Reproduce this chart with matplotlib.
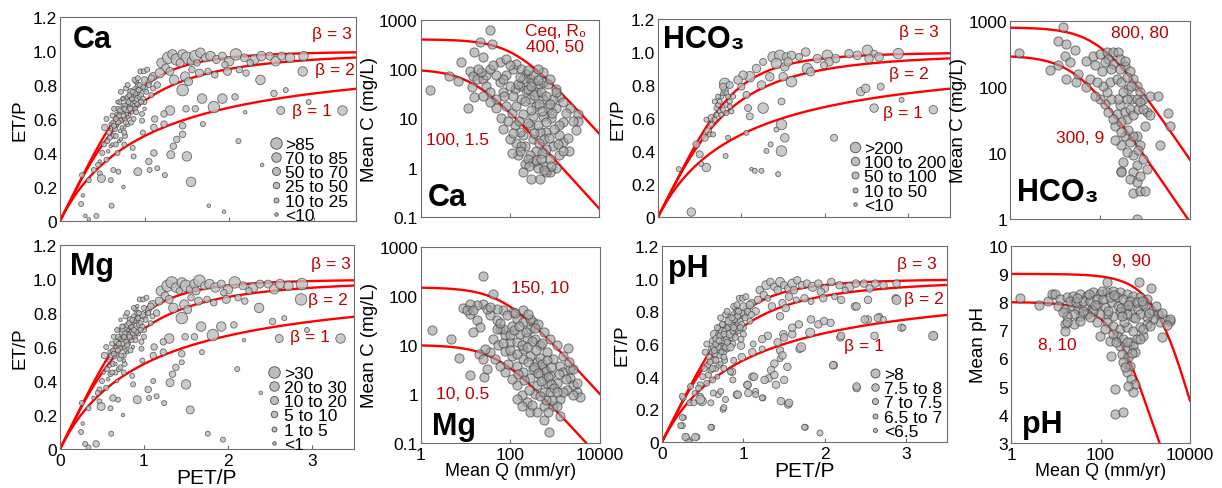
import numpy as np
import matplotlib
matplotlib.use("Agg")
import matplotlib.pyplot as plt
from matplotlib.lines import Line2D

plt.rcParams['font.family'] = ['Liberation Sans', 'DejaVu Sans']

# ---------------- Budyko panels: catchments shared by Ca, Mg and pH ----------------
bud_pet = [
    # upper band
    1.20, 1.28, 1.33, 1.38, 1.45, 1.50, 1.55, 1.60, 1.66, 1.72,
    1.78, 1.85, 1.92, 2.00, 2.08, 2.18, 2.30, 2.38, 2.48, 2.55,
    2.62, 2.72, 2.88, 1.25, 1.42, 1.62, 1.95, 2.25,
    # second band
    1.10, 1.18, 1.30, 1.48, 1.56, 1.65, 1.75, 1.83, 1.98, 2.12,
    2.20, 1.45, 1.52, 2.37, 2.87, 1.35,
    # middle / low scatter
    1.68, 1.82, 1.92, 2.07, 1.49, 1.60, 1.30, 1.23, 1.11, 1.38,
    1.34, 1.31, 1.11, 1.05, 1.15, 1.24, 0.92, 1.06, 0.69, 0.63,
    0.47, 0.49, 0.60, 0.34, 0.26, 0.75, 0.27, 0.25, 0.30, 0.34,
    0.43, 0.61, 0.98, 0.86, 0.87, 0.97, 1.23, 1.12, 1.45, 1.45,
    1.69, 1.50, 1.55, 1.76, 1.94, 2.11, 2.39, 2.19, 2.53, 2.67,
    2.61, 2.94, 3.34, 0.95, 0.99, 1.03, 0.90, 1.00, 1.05, 1.15,
    1.08, 1.00,
    # dense cluster
    0.56, 0.58, 0.60, 0.62, 0.57, 0.63, 0.64, 0.55, 0.60,
    0.66, 0.67, 0.68, 0.69, 0.70, 0.71, 0.72, 0.73, 0.74, 0.66, 0.70, 0.75, 0.68,
    0.76, 0.77, 0.78, 0.79, 0.80, 0.81, 0.82, 0.83, 0.84, 0.77, 0.80, 0.85, 0.78, 0.76,
    0.86, 0.87, 0.88, 0.89, 0.90, 0.91, 0.92, 0.87, 0.93, 0.94, 0.88, 0.95,
    0.96, 0.98, 1.00, 1.02, 1.05, 1.08, 1.10, 1.00, 0.97,
    0.50, 0.52, 0.47, 0.45, 0.40, 0.53, 0.55,
    0.59, 0.61, 0.63, 0.65, 0.67, 0.69, 0.71, 0.73, 0.75, 0.77,
    0.79, 0.81, 0.83, 0.85, 0.87, 0.89, 0.91, 0.93, 0.62, 0.66,
    0.70, 0.74, 0.78, 0.82, 0.86, 0.90, 0.94, 0.98, 0.72, 0.76,
    0.80, 0.84, 0.88, 0.92, 0.96, 0.64, 0.68, 0.72, 0.76, 0.80,
]
bud_et = [
    0.93, 0.96, 0.98, 0.95, 0.98, 0.96, 0.94, 0.97, 0.99, 0.96,
    0.97, 0.95, 0.97, 0.94, 0.98, 0.96, 0.95, 0.97, 0.97, 0.94,
    0.97, 0.96, 0.97, 0.90, 0.93, 0.93, 0.92, 0.93,
    0.85, 0.87, 0.88, 0.85, 0.89, 0.87, 0.88, 0.86, 0.88, 0.89,
    0.87, 0.77, 0.82, 0.83, 0.88, 0.83,
    0.72, 0.67, 0.72, 0.73, 0.66, 0.66, 0.65, 0.57, 0.55, 0.48,
    0.44, 0.39, 0.40, 0.35, 0.31, 0.27, 0.29, 0.30, 0.29, 0.30,
    0.28, 0.25, 0.24, 0.24, 0.27, 0.20, 0.15, 0.10, 0.03, 0.01,
    0.03, 0.09, 0.52, 0.43, 0.38, 0.59, 0.63, 0.60, 0.56, 0.51,
    0.57, 0.38, 0.23, 0.09, 0.055, 0.47, 0.33, 0.64, 0.75, 0.77,
    0.65, 0.70, 0.65, 0.88, 0.88, 0.89, 0.82, 0.78, 0.82, 0.80,
    0.74, 0.70,
    0.47, 0.52, 0.57, 0.62, 0.41, 0.50, 0.66, 0.36, 0.44,
    0.50, 0.56, 0.61, 0.66, 0.70, 0.53, 0.59, 0.64, 0.68, 0.45, 0.47, 0.72, 0.40,
    0.55, 0.60, 0.65, 0.69, 0.73, 0.62, 0.67, 0.71, 0.76, 0.50, 0.57, 0.64, 0.78, 0.45,
    0.69, 0.74, 0.78, 0.66, 0.71, 0.76, 0.80, 0.60, 0.68, 0.73, 0.83, 0.78,
    0.74, 0.79, 0.83, 0.76, 0.80, 0.84, 0.78, 0.66, 0.63,
    0.40, 0.45, 0.35, 0.33, 0.30, 0.55, 0.60,
    0.49, 0.55, 0.58, 0.54, 0.63, 0.58, 0.65, 0.55, 0.62, 0.68,
    0.63, 0.70, 0.66, 0.72, 0.68, 0.75, 0.69, 0.77, 0.45, 0.60,
    0.62, 0.72, 0.58, 0.74, 0.76, 0.64, 0.80, 0.72, 0.48, 0.52,
    0.80, 0.58, 0.70, 0.84, 0.70, 0.56, 0.70, 0.76, 0.66, 0.61,
]
# size class of each catchment (0 = smallest class)
ca_cls = [
    4, 5, 4, 5, 4, 5, 3, 5, 4, 3, 4, 3, 3, 4, 5, 3, 4, 4, 3, 4, 3, 4, 4, 3, 3, 2, 2, 2,
    3, 4, 3, 4, 2, 3, 2, 2, 3, 2, 2, 5, 3, 4, 4, 4,
    4, 5, 4, 2, 2, 2, 4, 2, 2, 2, 2, 3, 2, 2, 1, 1, 3, 1, 1, 1,
    1, 3, 1, 1, 1, 0, 0, 1, 0, 0, 1, 1, 1, 1, 1, 1, 2, 2, 2, 2,
    1, 4, 4, 0, 0, 1, 0, 0, 2, 1, 3, 1, 4, 1, 1, 1, 1, 2, 2, 2, 1, 1,
    1, 1, 0, 1, 0, 1, 1, 1, 0,
    1, 0, 1, 1, 1, 0, 1, 1, 0, 1, 0, 1, 1,
    0, 1, 1, 0, 1, 1, 0, 1, 2, 1, 1, 0, 1, 1,
    1, 1, 0, 1, 1, 2, 1, 1, 0, 1, 1, 1,
    1, 1, 2, 1, 1, 2, 1, 0, 1,
    1, 1, 0, 1, 1, 2, 1,
    1, 0, 1, 1, 0, 1, 1, 0, 1, 1, 0, 1, 1, 1, 0, 1, 1, 1, 0, 1,
    1, 0, 1, 1, 1, 1, 1, 1, 0, 1, 1, 1, 0, 1, 1, 1, 0, 1, 1, 0,
]
mg_cls = [
    4, 5, 5, 4, 4, 5, 3, 4, 5, 3, 4, 4, 3, 4, 5, 3, 4, 3, 3, 4, 4, 4, 5, 3, 2, 3, 2, 2,
    3, 3, 3, 4, 2, 3, 2, 2, 3, 2, 2, 5, 3, 4, 5, 4,
    4, 5, 4, 2, 2, 2, 4, 2, 2, 2, 2, 3, 1, 2, 1, 1, 3, 1, 1, 2,
    1, 3, 1, 1, 1, 0, 0, 1, 1, 1, 2, 1, 1, 1, 1, 1, 2, 2, 2, 1,
    1, 4, 3, 1, 1, 1, 0, 0, 2, 1, 3, 1, 4, 1, 1, 1, 1, 2, 2, 2, 1, 1,
    1, 0, 1, 1, 0, 1, 1, 1, 1,
    0, 1, 1, 1, 0, 1, 1, 0, 1, 1, 1, 1, 0,
    1, 1, 0, 1, 1, 1, 1, 0, 2, 1, 0, 1, 1, 1,
    1, 0, 1, 1, 1, 2, 1, 0, 1, 1, 1, 1,
    1, 2, 1, 1, 1, 2, 1, 1, 1,
    1, 0, 1, 1, 0, 2, 1,
    0, 1, 1, 0, 1, 1, 0, 1, 1, 1, 1, 0, 1, 1, 1, 0, 1, 1, 1, 0,
    1, 1, 0, 1, 1, 1, 1, 1, 1, 0, 1, 1, 1, 0, 1, 1, 1, 0, 1, 1,
]
ph_cls = [
    3, 4, 3, 3, 4, 3, 3, 4, 3, 3, 3, 4, 3, 3, 3, 3, 4, 3, 3, 3, 3, 3, 3, 3, 3, 3, 3, 2,
    3, 3, 2, 3, 3, 2, 3, 2, 3, 2, 3, 3, 3, 3, 3, 3,
    3, 4, 3, 3, 3, 3, 3, 2, 3, 3, 3, 3, 3, 3, 2, 2, 3, 3, 2, 2,
    2, 4, 2, 2, 2, 2, 1, 2, 2, 1, 2, 2, 3, 3, 2, 3, 3, 2, 3, 2,
    3, 3, 3, 2, 2, 3, 3, 3, 3, 2, 3, 3, 3, 2, 2, 2, 2, 3, 3, 3, 2, 2,
    2, 2, 1, 2, 2, 2, 3, 2, 2,
    2, 2, 2, 1, 2, 2, 2, 2, 3, 2, 2, 2, 1,
    2, 2, 2, 2, 1, 2, 2, 2, 3, 2, 2, 2, 2, 2,
    2, 2, 2, 2, 2, 3, 2, 2, 2, 2, 2, 2,
    2, 2, 3, 2, 2, 3, 2, 2, 2,
    2, 2, 2, 2, 1, 2, 2,
    2, 1, 2, 2, 3, 2, 2, 1, 2, 2, 2, 2, 3, 2, 2, 2, 1, 2, 2, 2,
    2, 2, 2, 3, 2, 2, 2, 2, 1, 2, 2, 3, 2, 2, 2, 2, 2, 2, 2, 2,
]
# catchments that only appear in the pH panel
phx_pet = [1.71, 1.50, 1.60, 1.42, 1.48, 1.54, 1.38, 1.13, 1.05, 0.93,
           1.26, 1.40, 1.46, 1.56, 1.23, 1.15, 2.10, 2.39, 2.20, 1.83,
           1.99, 2.39, 2.53, 2.49, 2.65, 2.72, 2.96, 2.88, 3.33, 1.75,
           0.60, 0.41, 0.29, 0.33, 0.23, 0.25, 0.47, 0.76, 0.78, 0.72,
           0.62, 0.35, 0.25, 0.39, 0.88, 0.84]
phx_et = [0.58, 0.64, 0.70, 0.61, 0.53, 0.46, 0.41, 0.40, 0.35, 0.29,
          0.38, 0.35, 0.25, 0.24, 0.27, 0.29, 0.47, 0.34, 0.65, 0.75,
          0.74, 0.83, 0.87, 0.75, 0.76, 0.75, 0.70, 0.87, 0.65, 0.09,
          0.09, 0.03, 0.03, 0.00, 0.10, 0.15, 0.26, 0.21, 0.26, 0.31,
          0.38, 0.34, 0.28, 0.24, 0.50, 0.43]
phx_cls = [4, 3, 3, 3, 3, 3, 3, 3, 3, 3, 3, 3, 3, 3, 2, 2, 3, 3, 3, 3,
           3, 3, 3, 3, 3, 2, 2, 4, 4, 2, 2, 3, 3, 2, 2, 2, 4, 2, 2, 2,
           2, 2, 2, 2, 2, 2]

# HCO3 catchments
hb_pet = [1.38, 1.46, 1.54, 1.60, 1.42, 1.52, 1.56, 1.69, 1.77, 1.91,
          2.03, 2.13, 2.05, 2.29, 2.39, 2.51, 2.59, 2.65, 2.88, 2.53,
          1.79, 1.83, 1.99, 1.26, 1.18, 1.60, 1.50, 1.34, 1.24, 1.10,
          1.02, 0.96, 1.00, 0.80, 1.26, 1.08, 1.10, 1.06, 1.48, 1.48,
          1.42, 1.52, 1.48, 1.30, 1.35, 1.06, 0.84, 0.81, 1.12, 1.16,
          1.24, 1.44, 2.11, 2.43, 2.49, 2.67, 2.59, 2.92, 3.30, 0.40,
          0.25, 0.46, 0.50, 0.52, 0.58, 0.56, 0.60, 0.62, 0.66, 0.64,
          0.58, 0.70, 0.72, 0.74, 0.76, 0.78, 0.80, 0.82, 0.84, 0.74,
          0.78, 0.82, 0.86, 0.70, 0.76, 0.82, 0.88, 0.86, 0.90, 0.68,
          0.72, 0.78, 0.86, 0.68, 0.64]
hb_et = [0.97, 0.98, 0.97, 0.98, 0.93, 0.91, 0.94, 0.97, 1.00, 0.96,
         0.98, 0.96, 0.94, 0.99, 0.98, 1.01, 0.99, 0.97, 0.99, 0.96,
         0.90, 0.88, 0.92, 0.94, 0.90, 0.82, 0.85, 0.85, 0.80, 0.85,
         0.86, 0.83, 0.79, 0.81, 0.66, 0.66, 0.61, 0.74, 0.70, 0.56,
         0.53, 0.48, 0.40, 0.40, 0.44, 0.51, 0.48, 0.37, 0.29, 0.28,
         0.28, 0.26, 0.48, 0.76, 0.78, 0.79, 0.66, 0.71, 0.65, 0.03,
         0.29, 0.44, 0.38, 0.32, 0.30, 0.48, 0.52, 0.50, 0.50, 0.60,
         0.59, 0.66, 0.68, 0.70, 0.73, 0.75, 0.77, 0.75, 0.73, 0.64,
         0.65, 0.68, 0.70, 0.62, 0.62, 0.63, 0.64, 0.67, 0.73, 0.70,
         0.73, 0.79, 0.80, 0.59, 0.56]
hb_cls = [4, 4, 3, 3, 4, 3, 3, 2, 3, 3, 4, 3, 3, 3, 3, 4, 2, 3, 4, 3,
          4, 3, 2, 2, 3, 4, 3, 3, 3, 4, 3, 3, 2, 4, 4, 2, 2, 2, 2, 4,
          1, 3, 4, 1, 1, 1, 1, 1, 0, 1, 1, 1, 2, 3, 3, 2, 3, 1, 3, 3,
          1, 2, 2, 1, 3, 2, 2, 1, 1, 2, 1, 1, 1, 1, 1, 1, 2, 1, 1, 1,
          1, 1, 1, 1, 1, 1, 1, 1, 1, 1, 1, 2, 2, 1, 1]

betas = [3, 2, 1]

# ---------------- concentration vs runoff ----------------
ca_q = [1.6, 4.4, 7.0, 8.0, 11.7, 37, 21, 39, 16, 25,
        12.7, 15, 18, 14, 16, 25, 30, 36, 50, 71,
        60, 84, 118, 140, 183, 235, 280, 330, 430, 560,
        720, 1100, 1300, 1550, 2200, 3400, 3100, 3400, 2150, 1550,
        1300, 1100, 780, 560, 430, 300, 470, 215, 140, 200,
        280, 330, 390, 560, 720, 850, 660, 940, 1300, 390,
        280, 215, 168, 130, 110, 84, 65, 50, 36, 25,
        100, 71, 280, 390, 235, 168, 183, 140, 470, 600,
        780, 660, 330, 430, 560, 1550, 1850, 1100, 940, 1300,
        1550, 130, 100, 200, 330, 560, 780, 1100, 71, 50,
        30, 23, 19, 36, 60, 84, 42, 100, 183, 155,
        330, 660, 850,
        150, 250, 350, 450, 520, 300, 200, 250, 350, 450,
        520, 380, 250, 170, 120, 160, 220, 300, 420, 500,
        650, 800, 900, 650, 750, 500, 600, 270, 200, 110,
        90, 75, 120, 170, 260, 420, 1000, 1200, 2000, 2600]
ca_c = [38, 71, 56, 141, 16, 630, 350, 320, 225, 173,
        93, 73, 63, 43, 27, 63, 46, 34, 25, 34,
        54, 74, 100, 127, 100, 80, 63, 54, 46, 54,
        50, 40, 27, 21, 16, 12, 5.7, 9, 2.2, 3.3,
        4.5, 1.0, 0.8, 1.1, 1.0, 0.6, 0.6, 1.2, 3.1, 4.5,
        7.2, 11, 18, 25, 16, 10, 5.2, 2.8, 1.8, 2.2,
        1.8, 2.8, 5.2, 7.2, 13, 18, 10, 16, 21, 29,
        3.9, 6.1, 25, 34, 37, 46, 25, 18, 5.2, 3.9,
        1.5, 2.4, 3.9, 7.2, 11, 8.3, 13, 16, 25, 7.2,
        2.2, 40, 46, 63, 74, 86, 63, 34, 63, 74,
        74, 86, 100, 100, 136, 160, 118, 118, 2.8, 1.8,
        1.3, 0.8, 1.1,
        50, 40, 30, 20, 14, 15, 12, 8, 5, 3.2,
        2.0, 1.4, 1.5, 2.2, 5, 9, 22, 45, 60, 35,
        28, 20, 13, 8.5, 4, 1.5, 0.9, 1.1, 0.8, 2.0,
        9, 28, 28, 70, 95, 100, 6, 3, 4, 9]

mg_q = [1.76, 4.7, 7.3, 25, 40, 12.6, 26, 1970, 740, 275,
        8.7, 12.6, 17.7, 21, 15, 25, 35, 50, 59, 76,
        98, 107, 138, 195, 275, 355, 460, 650, 910, 1290,
        1500, 2150, 3000, 3560, 2550, 1800, 1290, 910, 550, 385,
        230, 180, 138, 107, 76, 59, 45, 35, 27, 19.5,
        25, 30, 138, 195, 275, 385, 550, 760, 1080, 760,
        550, 385, 275, 195, 138, 98, 70, 50, 42, 54,
        76, 107, 195, 325, 460, 650, 165, 230, 325, 420,
        550, 760, 1080, 275, 195, 117, 70, 50, 30, 17.7,
        12.6, 10.6, 15, 35, 1500, 2150, 3000, 2550, 1500, 1080,
        700, 1290, 550, 138, 180, 300, 2550,
        120, 160, 220, 300, 380, 450, 520, 620, 700, 820,
        950, 250, 330, 420, 480, 360, 260, 200, 150, 90,
        70, 100, 140, 180, 240, 1200, 1700, 2000, 1100, 850,
        620, 450, 60, 85, 130, 250, 350, 500, 650, 800]
mg_c = [20, 13.5, 5.4, 255, 111, 2.4, 2.2, 8.6, 0.17, 0.42,
        57, 43, 32, 23, 18, 69, 40, 32, 21, 16,
        11.5, 25, 34, 29, 21, 13.5, 9.8, 7.1, 5.2, 3.8,
        2.8, 2.1, 1.1, 0.85, 1.5, 1.2, 0.8, 0.58, 0.58, 0.42,
        0.68, 0.94, 1.5, 2.0, 2.8, 3.8, 5.2, 7.1, 8.3, 6.6,
        5.2, 3.3, 3.8, 2.8, 2.1, 1.5, 1.1, 1.1, 1.7, 2.4,
        3.3, 4.5, 6.1, 8.3, 11.5, 16, 21, 21, 13.5, 9.8,
        7.7, 6.1, 5.2, 3.3, 2.4, 1.7, 17, 14, 29, 27,
        18, 13.5, 9.8, 34, 51, 47, 51, 55, 55, 64,
        69, 51, 51, 60, 6.1, 3.3, 1.7, 0.94, 1.1, 0.58,
        0.42, 0.35, 0.3, 0.8, 0.58, 0.6, 3.3,
        20, 25, 18, 12, 8, 5.5, 4, 3, 2.2, 1.6,
        1.3, 4.5, 3.6, 2.7, 1.8, 1.0, 1.2, 1.9, 2.6, 4,
        11, 8, 6.5, 10, 9, 2.6, 2, 4.5, 1.1, 0.75,
        0.75, 0.9, 28, 40, 45, 42, 22, 11, 5, 3.5]

hco3_q = [1.6, 7.7, 11.9, 15.3, 11.9, 18, 28, 16.7, 21.6, 17.5,
          30, 50, 60, 33, 50, 71, 100, 140, 197, 255,
          150, 197, 280, 360, 465, 550, 650, 780, 915, 1300,
          1980, 3300, 3600, 2150, 1100, 1000, 650, 780, 550, 650,
          550, 465, 650, 550, 780, 1000, 780, 1100, 915, 700,
          465, 360, 300, 390, 330, 300, 215, 235, 280, 360,
          465, 500, 390, 425, 330, 255, 180, 140, 118, 165,
          235, 300, 390, 500, 390, 550, 700, 650, 780, 915,
          550, 425, 300, 215, 300, 197, 150, 128, 100, 77,
          84, 108, 77, 128, 180, 280, 360, 650, 300, 1300]
hco3_c = [327, 183, 212, 810, 490, 455, 360, 300, 240, 133,
          118, 100, 133, 160, 250, 300, 320, 340, 340, 345,
          270, 225, 270, 210, 177, 133, 105, 84, 66, 74,
          74, 40, 26, 13, 42, 26, 18, 13, 9.2, 6.5,
          5.1, 4.0, 3.6, 2.5, 2.7, 2.7, 4.5, 5.7, 8.2, 11,
          14.5, 18, 13, 10.3, 7.3, 5.4, 26, 39, 53, 42,
          47, 66, 66, 94, 84, 66, 66, 84, 105, 118,
          133, 118, 140, 105, 33, 37, 47, 66, 59, 47,
          18, 22, 21, 16, 29, 33, 42, 56, 66, 74,
          118, 177, 212, 240, 189, 189, 252, 1.0, 5.1, 37]

ph_q = [1.6, 4.3, 6.8, 8.1, 16, 25, 16, 163, 168, 210,
        210, 315, 137, 740, 1320, 3600, 2330, 9.6, 12.4, 17.5,
        24.6, 35, 49, 69, 97, 137, 194, 272, 385, 540,
        760, 1080, 11.4, 16, 22.7, 32, 45, 63, 89, 125,
        178, 250, 355, 500, 700, 990, 1400, 1970, 2780, 3600,
        2150, 1500, 1080, 760, 540, 385, 272, 194, 137, 97,
        69, 49, 35, 25, 17.5, 14.8, 20.8, 29, 41, 58,
        82, 115, 163, 230, 325, 455, 645, 910, 137, 194,
        272, 385, 540, 760, 1080, 230, 325, 455, 645, 910,
        272, 385, 540, 300, 420, 580, 325, 455, 385, 490,
        580, 540, 420, 350, 97, 125, 82, 58, 194, 910,
        760, 1260, 35, 17.5,
        30, 40, 55, 75, 110, 150, 200, 280, 330, 420,
        600, 850, 1200, 1700, 2400, 3000, 300, 220, 400, 500]
ph_val = [8.14, 7.91, 8.05, 8.29, 7.22, 7.22, 6.99, 6.63, 6.10, 4.92,
          4.03, 4.09, 8.72, 8.72, 8.49, 7.34, 6.75, 8.29, 8.11, 8.17,
          8.23, 8.29, 8.23, 8.35, 8.29, 8.35, 8.40, 8.35, 8.29, 8.23,
          8.17, 8.11, 7.87, 7.75, 7.87, 7.75, 7.87, 7.75, 7.93, 7.81,
          7.99, 7.87, 7.75, 7.87, 7.75, 7.87, 7.70, 7.58, 7.40, 7.40,
          7.28, 7.40, 7.46, 7.58, 7.46, 7.58, 7.64, 7.52, 7.58, 7.58,
          7.70, 7.58, 7.52, 7.58, 7.52, 7.64, 8.05, 7.99, 8.05, 8.05,
          8.11, 8.11, 8.17, 8.17, 8.11, 8.05, 7.99, 7.93, 7.28, 7.16,
          7.04, 7.10, 6.99, 7.10, 7.22, 6.81, 6.69, 6.57, 6.69, 6.81,
          6.45, 6.34, 6.45, 6.16, 6.04, 6.22, 5.86, 5.74, 5.51, 5.27,
          5.09, 4.80, 5.03, 5.69, 6.81, 7.04, 7.28, 7.46, 6.87, 7.04,
          6.69, 7.16, 7.34, 7.28,
          8.15, 7.70, 8.30, 7.90, 8.40, 7.70, 8.25, 7.80, 7.30, 7.90,
          7.45, 8.05, 7.60, 7.85, 7.60, 7.20, 7.50, 6.60, 6.60, 6.20]

# model parameters (Ceq, R0) for the two curves in each C-Q panel
ca_model = [(400, 50), (100, 1.5)]
mg_model = [(150, 10), (10, 0.5)]
hco3_model = [(800, 80), (300, 9)]
ph_model = [(9, 90), (8, 10)]

# ---------------- styling ----------------
RED = '#ff0000'
TRED = '#c00000'
SPINE = '#6e6e6e'
PX_PT = 100 / 72.0
W, H = 1222, 489


def px_rect(l, t, r, b):
    return [l / W, 1 - b / H, (r - l) / W, (b - t) / H]


def budyko(x, b):
    return x / (1 + x ** b) ** (1.0 / b)


def cq_model(q, ceq, r0):
    return 1.0 / (1.0 / ceq + q / (1000.0 * r0))


def style_axes(ax):
    for s in ax.spines.values():
        s.set_color(SPINE)
        s.set_linewidth(0.8)
    ax.tick_params(axis='x', direction='in', length=3, color=SPINE, labelsize=12.5, pad=3)
    ax.tick_params(axis='y', length=0, labelsize=12.5, pad=2)
    ax.tick_params(which='minor', length=0)


fig = plt.figure(figsize=(12.22, 4.89), dpi=100)


def budyko_panel(rect, pet, et, cls, diam, leg_labels, leg_anchor, beta_txt, name, name_xy, bottom):
    ax = fig.add_axes(px_rect(*rect))
    xx = np.linspace(0, 3.5, 300)
    for b in betas:
        ax.plot(xx, budyko(xx, b), color=RED, lw=1.7, zorder=1)
    d = np.array(diam)[np.array(cls)]
    ax.scatter(pet, et, s=(d / PX_PT) ** 2, facecolor='#bdbdbd', edgecolor='#4a4a4a',
               linewidth=0.6, alpha=0.8, zorder=2)
    for b, (tx, ty) in zip(betas, beta_txt):
        ax.text(tx, ty, 'β = %d' % b, color=TRED, fontsize=12.5, ha='right', va='center')
    ax.text(name_xy[0], name_xy[1], name, transform=ax.transAxes, fontsize=22,
            fontweight='bold', ha='left', va='center')
    handles = [Line2D([], [], ls='', marker='o', ms=dd / PX_PT, mfc='#bdbdbd', mec='#4a4a4a',
                      mew=0.6) for dd in diam[::-1]]
    ax.legend(handles, leg_labels, loc='lower left', bbox_to_anchor=leg_anchor, frameon=False,
              fontsize=12.5, borderpad=0, borderaxespad=0, handlelength=0.8, handletextpad=0.15,
              labelspacing=-0.05)
    ax.set_xlim(0, 3.5)
    ax.set_ylim(0, 1.2)
    ax.set_yticks([0, 0.2, 0.4, 0.6, 0.8, 1.0, 1.2])
    ax.set_yticklabels(['0', '0.2', '0.4', '0.6', '0.8', '1.0', '1.2'])
    ax.set_xticks([0, 1, 2, 3])
    ax.set_ylabel('ET/P', fontsize=13.5, labelpad=3)
    style_axes(ax)
    if bottom:
        ax.set_xticklabels(['0', '1', '2', '3'])
        ax.set_xlabel('PET/P', fontsize=15, labelpad=0)
    else:
        ax.tick_params(axis='x', labelbottom=False)
    return ax


def cq_panel(rect, q, c, model, ylog, ylim, yticks, ytl, ylabel, texts, name, name_xy, bottom):
    ax = fig.add_axes(px_rect(*rect))
    ax.set_xscale('log')
    if ylog:
        ax.set_yscale('log')
    qq = np.geomspace(1, 10000, 400)
    for ceq, r0 in model:
        ax.plot(qq, cq_model(qq, ceq, r0), color=RED, lw=1.7, zorder=1)
    ax.scatter(q, c, s=(9.2 / PX_PT) ** 2, facecolor='#a2a2a2', edgecolor='#3a3a3a',
               linewidth=0.7, alpha=0.65, zorder=2)
    for tx, ty, t in texts:
        ax.text(tx, ty, t, color=TRED, fontsize=12.5, ha='center', va='center')
    ax.text(name_xy[0], name_xy[1], name, transform=ax.transAxes, fontsize=22,
            fontweight='bold', ha='left', va='center')
    ax.set_xlim(1, 10000)
    ax.set_ylim(*ylim)
    ax.set_xticks([1, 100, 10000])
    ax.set_yticks(yticks)
    ax.set_yticklabels(ytl)
    ax.set_ylabel(ylabel, fontsize=13.5, labelpad=1)
    style_axes(ax)
    if bottom:
        ax.set_xticklabels(['1', '100', '10000'])
        ax.set_xlabel('Mean Q (mm/yr)', fontsize=13, labelpad=0)
    else:
        ax.tick_params(axis='x', labelbottom=False)
    return ax


diam6 = [3.5, 5, 6.5, 8, 9.5, 11.5]
hco3_diam = [3.5, 5, 7, 8.5, 10.5]
ph_diam = [4, 5, 6, 7.5, 9]

budyko_panel((60, 18, 356, 222), bud_pet, bud_et, ca_cls, diam6,
             ['>85', '70 to 85', '50 to 70', '25 to 50', '10 to 25', '<10'],
             (0.705, -0.01), [(3.45, 1.10), (3.48, 0.89), (3.21, 0.65)],
             'Ca', (0.044, 0.89), False)
budyko_panel((60, 246, 354, 450), bud_pet, bud_et, mg_cls, diam6,
             ['>30', '20 to 30', '10 to 20', '5 to 10', '1 to 5', '<1'],
             (0.705, -0.015), [(3.46, 1.09), (3.43, 0.88), (3.21, 0.66)],
             'Mg', (0.034, 0.895), True)
budyko_panel((658, 20, 950, 218), hb_pet, hb_et, hb_cls, hco3_diam,
             ['>200', '100 to 200', '50 to 100', '10 to 50', '<10'],
             (0.65, 0.02), [(3.36, 1.125), (3.24, 0.867), (3.18, 0.636)],
             'HCO₃', (0.018, 0.9), False)
budyko_panel((662, 247, 947, 443), bud_pet + phx_pet, bud_et + phx_et, ph_cls + phx_cls, ph_diam,
             ['>8', '7.5 to 8', '7 to 7.5', '6.5 to 7', '<6.5'],
             (0.722, 0.015), [(3.38, 1.09), (3.46, 0.876), (2.72, 0.59)],
             'pH', (0.022, 0.89), True)

cq_panel((420.5, 20.7, 599, 218), ca_q, ca_c, ca_model, True, (0.1, 1000),
         [0.1, 1, 10, 100, 1000], ['0.1', '1', '10', '100', '1000'], 'Mean C (mg/L)',
         [(1040, 600, 'Ceq, R₀'), (1040, 280, '400, 50'), (6.6, 3.8, '100, 1.5')],
         'Ca', (0.042, 0.10), False)
cq_panel((420.7, 248, 600, 444), mg_q, mg_c, mg_model, True, (0.1, 1000),
         [0.1, 1, 10, 100, 1000], ['0.1', '1', '10', '100', '1000'], 'Mean C (mg/L)',
         [(460, 152, '150, 10'), (8.4, 1.0, '10, 0.5')],
         'Mg', (0.063, 0.085), True)
cq_panel((1010, 22, 1190, 220), hco3_q, hco3_c, hco3_model, True, (1, 1000),
         [1, 10, 100, 1000], ['1', '10', '100', '1000'], 'Mean C (mg/L)',
         [(776, 680, '800, 80'), (36, 17, '300, 9')],
         'HCO₃', (0.04, 0.136), False)
cq_panel((1011, 246.7, 1190, 444), ph_q, ph_val, ph_model, False, (3, 10),
         [3, 4, 5, 6, 7, 8, 9, 10], ['3', '4', '5', '6', '7', '8', '9', '10'], 'Mean pH',
         [(480, 9.47, '9, 90'), (10.6, 6.51, '8, 10')],
         'pH', (0.06, 0.096), True)

fig.savefig('out.png', dpi=100)
